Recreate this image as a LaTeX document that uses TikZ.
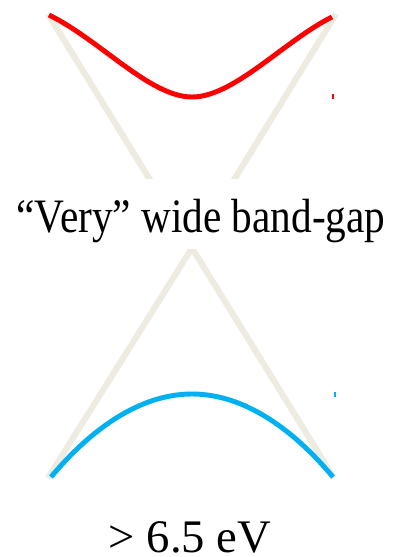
\documentclass[tikz,border=0pt]{standalone}
\usepackage{fontspec}
\setmainfont{Liberation Serif}
\definecolor{beige}{HTML}{EEECE1}
\definecolor{cband}{HTML}{FF0000}
\definecolor{vband}{HTML}{00B0F0}
\tikzset{
  guide/.style={draw=beige, line width=4.6pt},
  condband/.style={draw=cband, line width=3.7pt},
  valband/.style={draw=vband, line width=3.7pt},
  lbl/.style={anchor=base, inner sep=0pt},
}
\begin{document}
\begin{tikzpicture}[x=0.75pt, y=-0.75pt]
\useasboundingbox (0,0) rectangle (399,557);
\coordinate (tl) at (48,14);
\coordinate (tr) at (336,14);
\coordinate (bl) at (48,478);
\coordinate (br) at (334,478);
\coordinate (x) at (192,248);
% X-shaped guide lines
\draw[guide] (tl) -- (x) -- (br);
\draw[guide] (tr) -- (x) -- (bl);
% white band behind the label
\fill[white] (0,179) rectangle (399,249);
% conduction band
\coordinate (c1) at (49,15);
\coordinate (cmin) at (192,97);
\coordinate (c2) at (332,17);
\draw[condband] (c1) .. controls (100,40) and (150,97) .. (cmin)
                     .. controls (234,97) and (284,41) .. (c2);
% valence band
\coordinate (v1) at (51,477);
\coordinate (vmax) at (192,394);
\coordinate (v2) at (333,477);
\draw[valband] (v1) parabola bend (vmax) (v2);
% tiny marks
\coordinate (m1a) at (333,94);
\coordinate (m1b) at (333,99);
\draw[cband, line width=1.2pt] (m1a) -- (m1b);
\coordinate (m2a) at (335,392);
\coordinate (m2b) at (335,397);
\draw[vband, line width=1pt] (m2a) -- (m2b);
% labels
\node[lbl, font=\fontsize{36}{40}\selectfont] (gap) at (201,232) {\scalebox{0.86}[1]{“Very” wide band-gap}};
\node[lbl, font=\fontsize{35}{38}\selectfont] (ev) at (190,552) {> 6.5 eV};
\end{tikzpicture}
\end{document}
